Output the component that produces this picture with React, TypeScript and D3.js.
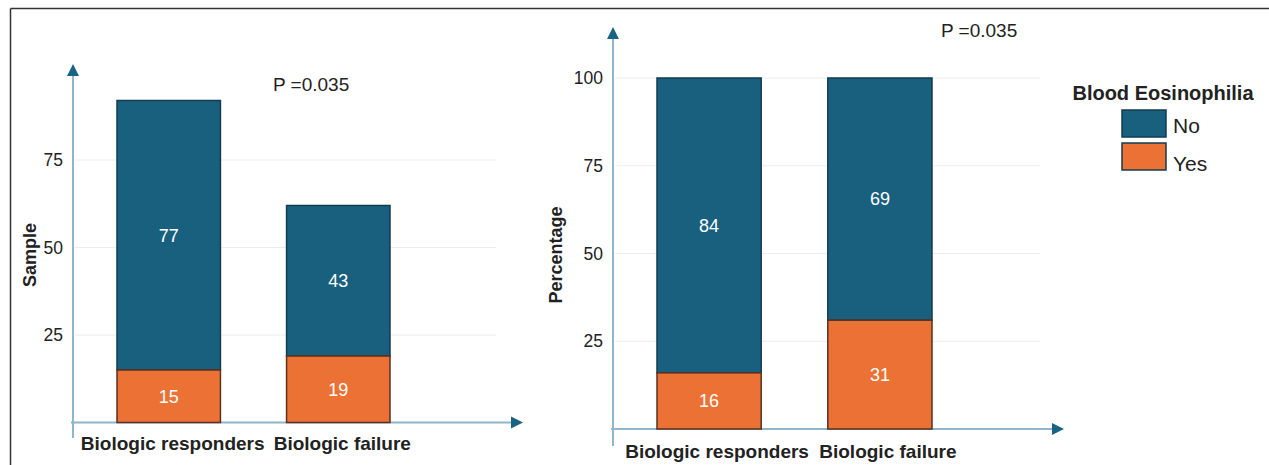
import React from "react";
import * as d3 from "d3";

const categories = ["Biologic responders", "Biologic failure"];
const countNo = [77, 43];
const countYes = [15, 19];
const pctNo = [84, 69];
const pctYes = [16, 31];
const leftTicks = [25, 50, 75];
const rightTicks = [25, 50, 75, 100];
const seriesNames = ["No", "Yes"];
const pText = "P =0.035";

const BLUE = "#19607f";
const ORANGE = "#eb7135";
const AXIS = "#8fb6ca";
const ARROW = "#1b6385";
const FONT = "'Liberation Sans', Arial, sans-serif";

type PanelProps = {
  no: number[];
  yes: number[];
  ticks: number[];
  y: d3.ScaleLinear<number, number>;
  x: d3.ScaleBand<string>;
  axisX: number;
  axisTop: number;
  axisBottom: number;
  xAxisStart: number;
  xAxisEnd: number;
  gridEnd: number;
  title: string;
  titleX: number;
  labelY: number;
  labelDx: number;
};

function Panel(p: PanelProps) {
  const x0 = p.y(0);
  return (
    <g>
      {p.ticks.map((t) => (
        <g key={t}>
          <line x1={p.axisX + 2} x2={p.gridEnd} y1={p.y(t)} y2={p.y(t)} stroke="#ececec" strokeWidth={1} />
          <text x={p.axisX - 10} y={p.y(t)} dy="0.35em" textAnchor="end" fontSize={17.5} fill="#222" fontFamily={FONT}>
            {t}
          </text>
        </g>
      ))}
      <line x1={p.axisX} x2={p.axisX} y1={p.axisBottom} y2={p.axisTop + 10} stroke={AXIS} strokeWidth={2} />
      <path d={`M${p.axisX},${p.axisTop} L${p.axisX - 6},${p.axisTop + 12} L${p.axisX + 6},${p.axisTop + 12} Z`} fill={ARROW} />
      <line x1={p.xAxisStart} x2={p.xAxisEnd - 10} y1={x0} y2={x0} stroke={AXIS} strokeWidth={2} />
      <path d={`M${p.xAxisEnd},${x0} L${p.xAxisEnd - 12},${x0 - 6} L${p.xAxisEnd - 12},${x0 + 6} Z`} fill={ARROW} />
      {categories.map((c, i) => {
        const bx = p.x(c) as number;
        const bw = p.x.bandwidth();
        const yYes = p.y(p.yes[i]);
        const yTot = p.y(p.yes[i] + p.no[i]);
        return (
          <g key={c}>
            <rect x={bx} y={yTot} width={bw} height={yYes - yTot} fill={BLUE} stroke="#123c4f" strokeWidth={1.5} />
            <rect x={bx} y={yYes} width={bw} height={x0 - yYes} fill={ORANGE} stroke="#5a3020" strokeWidth={1.5} />
            <text x={bx + bw / 2} y={(yTot + yYes) / 2} dy="0.35em" textAnchor="middle" fill="#fff" fontSize={18} fontFamily={FONT}>
              {p.no[i]}
            </text>
            <text x={bx + bw / 2} y={(yYes + x0) / 2} dy="0.35em" textAnchor="middle" fill="#fff" fontSize={18} fontFamily={FONT}>
              {p.yes[i]}
            </text>
            <text x={bx + bw / 2 + p.labelDx} y={p.labelY} dy="0.35em" textAnchor="middle" fill="#222" fontSize={19} fontWeight="bold" fontFamily={FONT}>
              {c}
            </text>
          </g>
        );
      })}
      <text
        transform={`translate(${p.titleX},${255}) rotate(-90)`}
        textAnchor="middle"
        dy="0.35em"
        fontSize={18}
        fontWeight="bold"
        fill="#222"
        fontFamily={FONT}
      >
        {p.title}
      </text>
    </g>
  );
}

export default function App() {
  const W = 1269;
  const H = 465;
  const yL = d3.scaleLinear().domain([0, 100]).range([422.5, 72.5]);
  const yR = d3.scaleLinear().domain([0, 100]).range([429, 78]);
  const xL = d3.scaleBand<string>().domain(categories).range([117, 390]).paddingInner(0.39).paddingOuter(0);
  const xR = d3.scaleBand<string>().domain(categories).range([657, 932]).paddingInner(0.39).paddingOuter(0);
  const colors = [BLUE, ORANGE];
  return (
    <svg width={W} height={H} style={{ position: "absolute", left: 0, top: 0, background: "#fff" }}>
      <rect x={0} y={0} width={W} height={H} fill="#fff" />
      <line x1={10.5} x2={W} y1={8.5} y2={8.5} stroke="#333" strokeWidth={1.5} />
      <line x1={10.5} x2={10.5} y1={8.5} y2={H} stroke="#333" strokeWidth={1.5} />
      <Panel
        no={countNo}
        yes={countYes}
        ticks={leftTicks}
        y={yL}
        x={xL}
        axisX={73}
        axisTop={64}
        axisBottom={438}
        xAxisStart={71}
        xAxisEnd={523}
        gridEnd={496}
        title="Sample"
        titleX={30}
        labelY={443}
        labelDx={4}
      />
      <Panel
        no={pctNo}
        yes={pctYes}
        ticks={rightTicks}
        y={yR}
        x={xR}
        axisX={613}
        axisTop={27}
        axisBottom={446}
        xAxisStart={611}
        xAxisEnd={1064}
        gridEnd={1040}
        title="Percentage"
        titleX={556}
        labelY={451}
        labelDx={8}
      />
      <text x={273} y={84} dy="0.35em" fontSize={19} fill="#222" fontFamily={FONT}>{pText}</text>
      <text x={941} y={30} dy="0.35em" fontSize={19} fill="#222" fontFamily={FONT}>{pText}</text>
      <text x={1163} y={93} dy="0.35em" textAnchor="middle" fontSize={20} fontWeight="bold" fill="#222" fontFamily={FONT}>
        Blood Eosinophilia
      </text>
      {seriesNames.map((s, i) => (
        <g key={s}>
          <rect x={1122} y={110 + i * 33} width={44} height={27} fill={colors[i]} stroke="#123c4f" strokeWidth={1.5} />
          <text x={1173} y={126 + i * 38} dy="0.35em" fontSize={21} fill="#222" fontFamily={FONT}>{s}</text>
        </g>
      ))}
    </svg>
  );
}
